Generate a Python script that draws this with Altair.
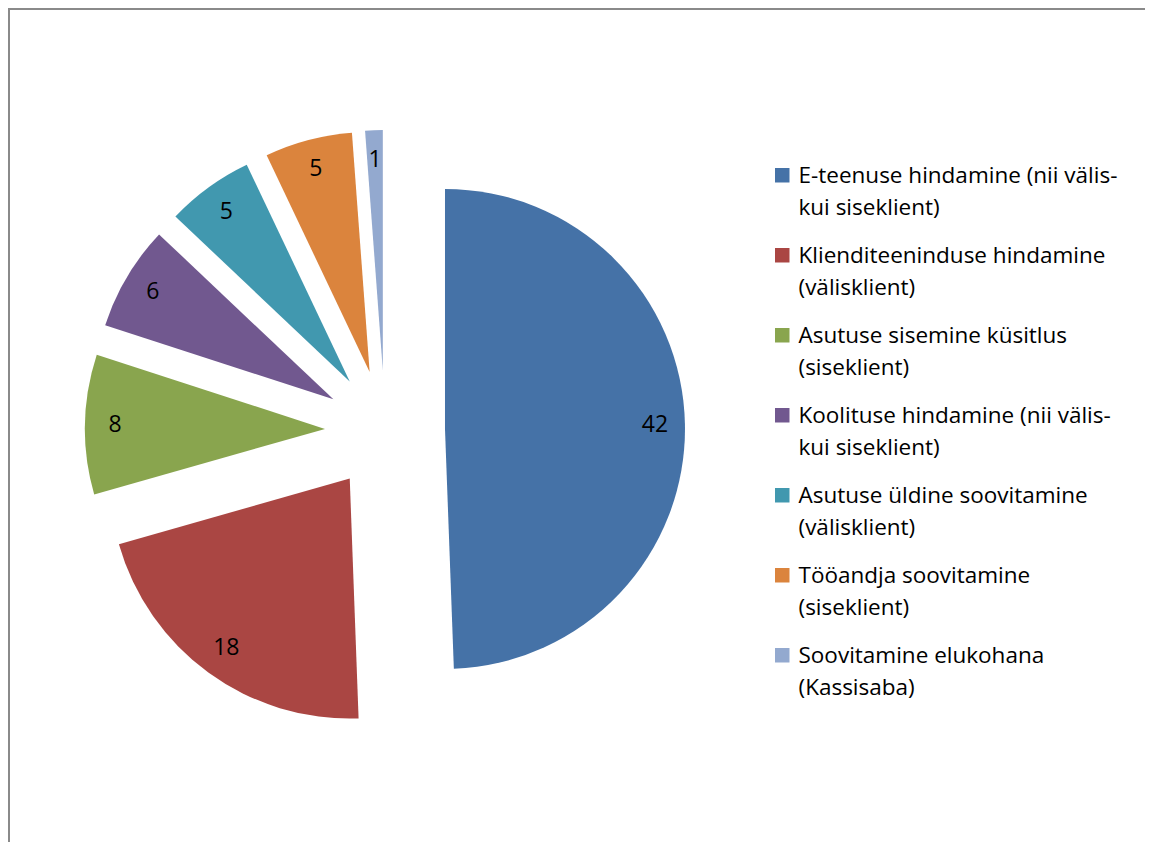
import altair as alt
import pandas as pd

categories = [
    "E-teenuse hindamine (nii välis-\nkui siseklient)",
    "Klienditeeninduse hindamine\n(välisklient)",
    "Asutuse sisemine küsitlus\n(siseklient)",
    "Koolituse hindamine (nii välis-\nkui siseklient)",
    "Asutuse üldine soovitamine\n(välisklient)",
    "Tööandja soovitamine\n(siseklient)",
    "Soovitamine elukohana\n(Kassisaba)",
]
values = [42, 18, 8, 6, 5, 5, 1]
colors = ["#4572A7", "#AA4643", "#89A54E", "#71588F", "#4198AF", "#DB843D", "#93A9CF"]

W, H = 1137, 834
CX, CY = 377, 422
R = 240
EXPLODE = 60
LABEL_R = 270

df = pd.DataFrame({"category": categories, "value": values, "order": list(range(len(values)))})

base = (
    alt.Chart(df)
    .transform_window(cum="sum(value)", sort=[alt.SortField("order")], frame=[None, 0])
    .transform_joinaggregate(total="sum(value)")
    .transform_calculate(
        a0="2*PI*(datum.cum - datum.value)/datum.total",
        a1="2*PI*datum.cum/datum.total",
    )
    .transform_calculate(mid="(datum.a0 + datum.a1)/2")
    .transform_calculate(
        cx=f"{CX} + {EXPLODE}*sin(datum.mid)",
        cy=f"{CY} - {EXPLODE}*cos(datum.mid)",
        lx=f"{CX} + {LABEL_R}*sin(datum.mid)",
        ly=f"{CY} - {LABEL_R}*cos(datum.mid)",
    )
)

arcs = base.mark_arc(radius=R).encode(
    theta=alt.Theta("a0:Q", scale=None, stack=None),
    theta2="a1:Q",
    x=alt.X("cx:Q", scale=None, axis=None),
    y=alt.Y("cy:Q", scale=None, axis=None),
    color=alt.Color(
        "category:N",
        sort=categories,
        scale=alt.Scale(domain=categories, range=colors),
        legend=alt.Legend(
            title=None,
            orient="none",
            legendX=763,
            legendY=156,
            padding=0,
            labelFont="Open Sans",
            labelFontSize=22.5,
            labelColor="#000000",
            labelLimit=400,
            labelOffset=5,
            labelBaseline="top",
            labelExpr="split(datum.label, '\\n')",
            rowPadding=24,
            symbolType="square",
            symbolSize=210,
            symbolStrokeWidth=0,
            symbolOpacity=1,
        ),
    ),
)

labels = base.mark_text(font="Open Sans", fontSize=23, color="#000000", align="center", baseline="middle").encode(
    x=alt.X("lx:Q", scale=None, axis=None),
    y=alt.Y("ly:Q", scale=None, axis=None),
    text="value:Q",
)

border_top = alt.Chart(df).mark_rule(color="#8a8a8a", strokeWidth=2).encode(
    x=alt.value(0), x2=alt.value(W), y=alt.value(1)
)
border_left = alt.Chart(df).mark_rule(color="#8a8a8a", strokeWidth=2).encode(
    x=alt.value(1), y=alt.value(0), y2=alt.value(H)
)

chart = (
    alt.layer(border_top, border_left, arcs, labels)
    .properties(width=W, height=H, padding=0, autosize=alt.AutoSizeParams(type="none"))
    .configure_view(strokeWidth=0)
    .configure(style={"guide-label": {"lineHeight": 32, "dy": -10}})
)

chart.save("out.html", embed_options={"renderer": "svg", "actions": False})
